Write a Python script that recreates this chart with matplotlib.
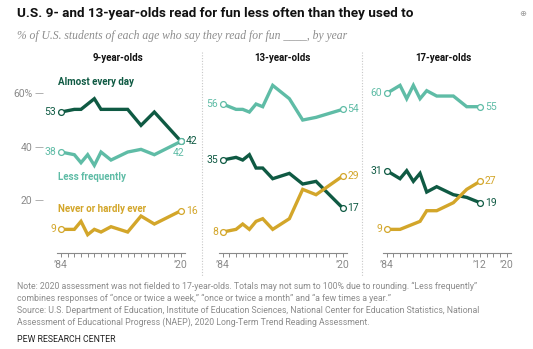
import matplotlib
matplotlib.use("Agg")
import matplotlib.pyplot as plt
from matplotlib import font_manager as fm

names = {f.name for f in fm.fontManager.ttflist}
NARROW = "Liberation Sans Narrow" if "Liberation Sans Narrow" in names else "Roboto"
SANS = "Roboto"
SERIF = "Liberation Serif"

# ---------------- data ----------------
years_9_13 = [1984, 1988, 1990, 1992, 1994, 1996, 1999, 2004, 2008, 2012, 2020]
years_17 = [1984, 1988, 1990, 1992, 1994, 1996, 1999, 2004, 2008, 2012]

age9_daily = [53, 54, 54, 56, 58, 54, 54, 54, 48, 53, 42]
age9_less = [38, 37, 34, 37, 33, 38, 35, 38, 39, 37, 42]
age9_never = [9, 9, 12, 7, 9, 8, 10, 8, 14, 11, 16]

age13_daily = [35, 36, 35, 37, 32, 32, 28, 30, 26, 27, 17]
age13_less = [56, 54, 54, 53, 56, 55, 63, 58, 50, 51, 54]
age13_never = [8, 9, 11, 9, 12, 13, 9, 13, 24, 22, 29]

age17_daily = [31, 28, 31, 27, 30, 23, 25, 22, 21, 19]
age17_less = [60, 63, 58, 63, 58, 61, 59, 59, 55, 55]
age17_never = [9, 9, 10, 11, 12, 16, 16, 19, 24, 27]

panel_titles = ["9-year-olds", "13-year-olds", "17-year-olds"]
series_names = ["Almost every day", "Less frequently", "Never or hardly ever"]
y_ticks = [20, 40, 60]
y_tick_labels = ["20", "40", "60%"]

C_DAILY = "#0f5a43"
C_LESS = "#5fbca6"
C_NEVER = "#d3a62a"
colors = [C_DAILY, C_LESS, C_NEVER]

W, H = 533, 349
fig = plt.figure(figsize=(W / 100, H / 100), dpi=100)
fig.patch.set_facecolor("white")

def px_axes(left, top, width, height):
    return fig.add_axes([left / W, 1 - (top + height) / H, width / W, height / H])

panels = [
    (years_9_13, [age9_daily, age9_less, age9_never], 41.0, [1984, 2020]),
    (years_9_13, [age13_daily, age13_less, age13_never], 202.7, [1984, 2020]),
    (years_17, [age17_daily, age17_less, age17_never], 366.7, [1984, 2012, 2020]),
]

axes = []
for pi, (yrs, series, left, xlpos) in enumerate(panels):
    ax = px_axes(left, 66.7, 160, 200)
    ax.set_xlim(1978, 2026)
    ax.set_ylim(-5, 70)
    ax.set_facecolor("none")
    for s in ["top", "right", "left"]:
        ax.spines[s].set_visible(False)
    ax.spines["bottom"].set_position(("data", 0))
    ax.spines["bottom"].set_bounds(1982.8, 2021.2)
    ax.spines["bottom"].set_color("#8a8a8a")
    ax.spines["bottom"].set_linewidth(0.8)
    ax.set_xticks(list(range(1984, 2021, 2)))
    ax.set_xticklabels(["’%02d" % (y % 100) if y in xlpos else "" for y in range(1984, 2021, 2)])
    ax.tick_params(axis="x", direction="out", length=3, width=0.7, color="#8a8a8a",
                   labelsize=7.5, labelcolor="#8a8a8a", pad=1.5)
    for lab in ax.get_xticklabels():
        lab.set_fontfamily(SANS)
    if pi == 0:
        ax.spines["left"].set_position(("data", 1978.6))
        ax.set_yticks(y_ticks)
        ax.set_yticklabels(y_tick_labels)
        ax.tick_params(axis="y", direction="out", length=6, width=0.7, color="#b0b0b0",
                       labelsize=7.5, labelcolor="#8a8a8a", pad=1.5)
        for lab in ax.get_yticklabels():
            lab.set_fontfamily(SANS)
    else:
        ax.set_yticks([])
    for si, vals in enumerate(series):
        c = colors[si]
        ax.plot(yrs, vals, color=c, lw=2.4, solid_joinstyle="miter", zorder=3)
        ax.plot([yrs[0], yrs[-1]], [vals[0], vals[-1]], ls="none", marker="o", ms=4.2,
                mfc="white", mec=c, mew=0.9, zorder=4)
        ax.annotate(str(vals[0]), (yrs[0], vals[0]), xytext=(-3.5, 0), textcoords="offset points",
                    ha="right", va="center", fontsize=7.5, color=c, family=SANS)
        if pi == 0 and si == 1:
            ax.annotate(str(vals[-1]), (yrs[-1], vals[-1]), xytext=(-2, -8.5), textcoords="offset points",
                        ha="center", va="center", fontsize=7.5, color=c, family=SANS)
        else:
            ax.annotate(str(vals[-1]), (yrs[-1], vals[-1]), xytext=(3.5, 0), textcoords="offset points",
                        ha="left", va="center", fontsize=7.5, color=c, family=SANS)
    axes.append(ax)

# series labels on first panel
a0 = axes[0]
a0.text(1983, 64.3, series_names[0], color=C_DAILY, fontsize=7, fontweight="bold", family=SANS, va="center")
a0.text(1983, 28.8, series_names[1], color=C_LESS, fontsize=7, fontweight="bold", family=SANS, va="center")
a0.text(1983, 16.8, series_names[2], color=C_NEVER, fontsize=7, fontweight="bold", family=SANS, va="center")

# panel titles
for ax, t, cx in zip(axes, panel_titles, [118, 282, 443]):
    fig.text(cx / W, 1 - 58 / H, t, ha="center", va="center", fontsize=7, fontweight="bold",
             family=SANS, color="#111111")

# dotted separators
for x in [202, 362]:
    fig.add_artist(plt.Line2D([x / W, x / W], [1 - 52 / H, 1 - 276 / H], color="#c8c8c8",
                              lw=0.8, ls=(0, (1, 1.5))))

# title & subtitle
fig.text(17 / W, 1 - 14 / H, "U.S. 9- and 13-year-olds read for fun less often than they used to",
         ha="left", va="center", fontsize=9.7, fontweight="bold", family=NARROW, color="#111111")
fig.text(17 / W, 1 - 35.5 / H, "% of U.S. students of each age who say they read for fun ____, by year",
         ha="left", va="center", fontsize=8.4, style="italic", family=SERIF, color="#8c8c8c")

# small icon top-right
fig.text(523 / W, 1 - 13 / H, "⊕", ha="center", va="center", fontsize=6, color="#999999", family="DejaVu Sans")

note = ("Note: 2020 assessment was not fielded to 17-year-olds. Totals may not sum to 100% due to rounding. “Less frequently”\n"
        "combines responses of “once or twice a week,” “once or twice a month” and “a few times a year.”\n"
        "Source: U.S. Department of Education, Institute of Education Sciences, National Center for Education Statistics, National\n"
        "Assessment of Educational Progress (NAEP), 2020 Long-Term Trend Reading Assessment.")
fig.text(17 / W, 1 - 282 / H, note, ha="left", va="top", fontsize=6.3, family=SANS, color="#8c8c8c",
         linespacing=1.38)
fig.text(17 / W, 1 - 340 / H, "PEW RESEARCH CENTER", ha="left", va="center", fontsize=6.3, family=SANS,
         color="#222222")

fig.savefig("out.png", dpi=100, facecolor="white")
